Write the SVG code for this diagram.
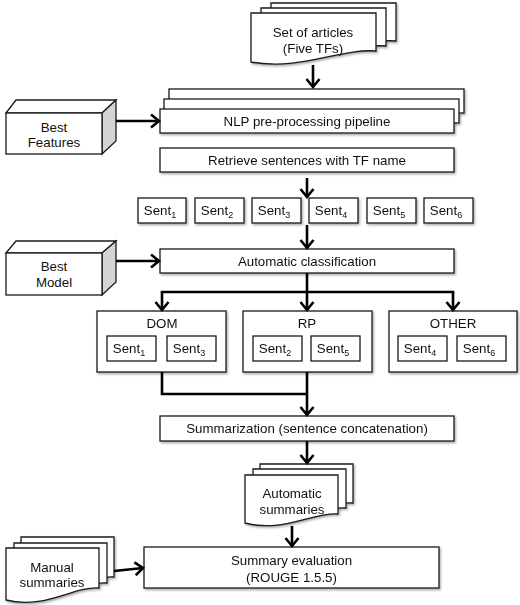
<svg xmlns="http://www.w3.org/2000/svg" width="520" height="605" viewBox="0 0 520 605">
<defs>
<filter id="sh" x="-10%" y="-10%" width="130%" height="140%">
<feDropShadow dx="1.2" dy="1.5" stdDeviation="0.8" flood-color="#000" flood-opacity="0.35"/>
</filter>
<marker id="ah" markerUnits="userSpaceOnUse" markerWidth="16" markerHeight="16" refX="10" refY="7" orient="auto" overflow="visible">
<path d="M2,0.5 L10,7 L2,13.5" fill="none" stroke="#000" stroke-width="2.6"/>
</marker>
<path id="doc93" d="M0,0 H93 V39 C68,37 38,58 0,48 Z"/>
<path id="doc93m" d="M0,0 H93 V40 C68,38 38,62 0,52 Z"/>
<path id="doc125" d="M0,0 H125 V38 C90,35 50,58 0,49 Z"/>
</defs>
<style>
.b{fill:#fff;stroke:#1a1a1a;stroke-width:1.3}
.t{font-family:"Liberation Sans",Arial,sans-serif;font-size:13.3px;fill:#111;text-anchor:middle}
.sub{font-size:9px}
.c{fill:none;stroke:#000;stroke-width:2.6}
.side{fill:#d4d4d4;stroke:#1a1a1a;stroke-width:1.3}
</style>

<g id="articles" filter="url(#sh)">
<use href="#doc125" x="271" y="3" class="b"/>
<use href="#doc125" x="261" y="8" class="b"/>
<use href="#doc125" x="251" y="13" class="b"/>
<text class="t" x="313" y="37">Set of articles</text>
<text class="t" x="313" y="53">(Five TFs)</text>
</g>

<g id="nlp" filter="url(#sh)">
<rect class="b" x="169" y="89" width="295" height="24"/>
<rect class="b" x="164" y="99" width="295" height="24"/>
<rect class="b" x="160" y="109" width="294" height="24"/>
<text class="t" x="307" y="126">NLP pre-processing pipeline</text>
</g>

<g id="bestfeatures">
<path class="b" d="M6,113 L16,100 L116,100 L102,113 Z"/>
<path class="side" d="M102,113 L116,100 L116,141 L102,154 Z"/>
<rect class="b" x="6" y="113" width="96" height="41"/>
<text class="t" x="54" y="132">Best</text>
<text class="t" x="54" y="147">Features</text>
</g>

<g id="retrieve" filter="url(#sh)">
<rect class="b" x="160" y="148" width="294" height="24"/>
<text class="t" x="307" y="165">Retrieve sentences with TF name</text>
</g>

<g id="sents" filter="url(#sh)">
<rect class="b" x="138" y="198" width="48" height="25"/>
<text class="t" x="160" y="215">Sent<tspan class="sub" dy="3">1</tspan></text>
<rect class="b" x="195" y="198" width="49" height="25"/>
<text class="t" x="217" y="215">Sent<tspan class="sub" dy="3">2</tspan></text>
<rect class="b" x="252" y="198" width="49" height="25"/>
<text class="t" x="274" y="215">Sent<tspan class="sub" dy="3">3</tspan></text>
<rect class="b" x="309" y="198" width="49" height="25"/>
<text class="t" x="331" y="215">Sent<tspan class="sub" dy="3">4</tspan></text>
<rect class="b" x="367" y="198" width="49" height="25"/>
<text class="t" x="389" y="215">Sent<tspan class="sub" dy="3">5</tspan></text>
<rect class="b" x="424" y="198" width="49" height="25"/>
<text class="t" x="446" y="215">Sent<tspan class="sub" dy="3">6</tspan></text>
</g>

<g id="classification" filter="url(#sh)">
<rect class="b" x="160" y="249" width="294" height="24"/>
<text class="t" x="307" y="266">Automatic classification</text>
</g>

<g id="bestmodel">
<path class="b" d="M6,253 L16,241 L116,241 L102,253 Z"/>
<path class="side" d="M102,253 L116,241 L116,282 L102,295 Z"/>
<rect class="b" x="6" y="253" width="96" height="42"/>
<text class="t" x="54" y="271">Best</text>
<text class="t" x="54" y="287">Model</text>
</g>

<g id="dom" filter="url(#sh)">
<rect class="b" x="97" y="311" width="129" height="61"/>
<text class="t" x="162" y="328">DOM</text>
<rect class="b" x="107" y="336" width="49" height="25"/>
<text class="t" x="129" y="353">Sent<tspan class="sub" dy="3">1</tspan></text>
<rect class="b" x="167" y="336" width="49" height="25"/>
<text class="t" x="189" y="353">Sent<tspan class="sub" dy="3">3</tspan></text>
</g>

<g id="rp" filter="url(#sh)">
<rect class="b" x="243" y="311" width="129" height="61"/>
<text class="t" x="307" y="328">RP</text>
<rect class="b" x="253" y="336" width="49" height="25"/>
<text class="t" x="275" y="353">Sent<tspan class="sub" dy="3">2</tspan></text>
<rect class="b" x="311" y="336" width="49" height="25"/>
<text class="t" x="333" y="353">Sent<tspan class="sub" dy="3">5</tspan></text>
</g>

<g id="other" filter="url(#sh)">
<rect class="b" x="389" y="311" width="128" height="61"/>
<text class="t" x="453" y="328">OTHER</text>
<rect class="b" x="398" y="336" width="49" height="25"/>
<text class="t" x="420" y="353">Sent<tspan class="sub" dy="3">4</tspan></text>
<rect class="b" x="457" y="336" width="49" height="25"/>
<text class="t" x="479" y="353">Sent<tspan class="sub" dy="3">6</tspan></text>
</g>

<g id="summarization" filter="url(#sh)">
<rect class="b" x="160" y="416" width="294" height="25"/>
<text class="t" x="307" y="433">Summarization (sentence concatenation)</text>
</g>

<g id="autosummaries" filter="url(#sh)">
<use href="#doc93" x="260" y="464" class="b"/>
<use href="#doc93" x="253" y="469" class="b"/>
<use href="#doc93" x="245" y="475" class="b"/>
<text class="t" x="292" y="498">Automatic</text>
<text class="t" x="292" y="514">summaries</text>
</g>

<g id="evaluation" filter="url(#sh)">
<rect class="b" x="144" y="547" width="295" height="41"/>
<text class="t" x="291.5" y="565">Summary evaluation</text>
<text class="t" x="291.5" y="582">(ROUGE 1.5.5)</text>
</g>

<g id="manual" filter="url(#sh)">
<use href="#doc93m" x="21" y="537" class="b"/>
<use href="#doc93m" x="14" y="543" class="b"/>
<use href="#doc93m" x="6" y="548" class="b"/>
<text class="t" x="52" y="572">Manual</text>
<text class="t" x="52" y="587">summaries</text>
</g>

<g id="connectors">
<line class="c" x1="313" y1="65" x2="313" y2="87" marker-end="url(#ah)"/>
<line class="c" x1="116" y1="121" x2="159" y2="121" marker-end="url(#ah)"/>
<line class="c" x1="307" y1="178" x2="307" y2="197" marker-end="url(#ah)"/>
<line class="c" x1="307" y1="225" x2="307" y2="248" marker-end="url(#ah)"/>
<line class="c" x1="116" y1="261" x2="159" y2="261" marker-end="url(#ah)"/>
<line class="c" x1="307" y1="273" x2="307" y2="292"/>
<line class="c" x1="160.7" y1="292" x2="454.3" y2="292"/>
<line class="c" x1="162" y1="292" x2="162" y2="310" marker-end="url(#ah)"/>
<line class="c" x1="307" y1="292" x2="307" y2="310" marker-end="url(#ah)"/>
<line class="c" x1="453" y1="292" x2="453" y2="310" marker-end="url(#ah)"/>
<polyline class="c" points="162,372 162,394 307,394"/>
<line class="c" x1="307" y1="372" x2="307" y2="415" marker-end="url(#ah)"/>
<line class="c" x1="307" y1="441" x2="307" y2="463" marker-end="url(#ah)"/>
<line class="c" x1="292" y1="526" x2="292" y2="546" marker-end="url(#ah)"/>
<line class="c" x1="114" y1="571" x2="143" y2="568" marker-end="url(#ah)"/>
</g>
</svg>
